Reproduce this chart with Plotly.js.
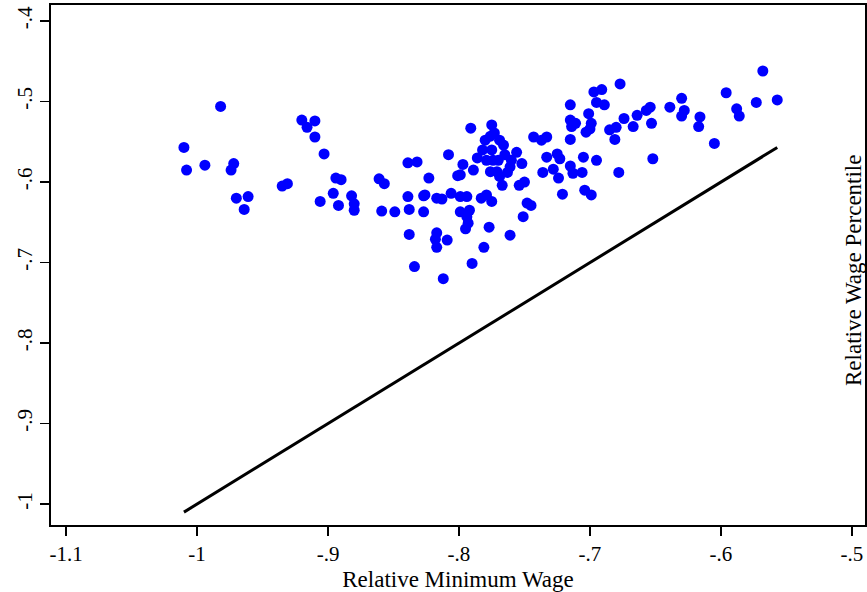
<!DOCTYPE html>
<html>
<head>
<meta charset="utf-8">
<script src="https://cdn.plot.ly/plotly-3.0.1.min.js"></script>
<style>html,body{margin:0;padding:0;background:#fff}#chart{width:867px;height:592px}</style>
</head>
<body>
<div id="chart"></div>
<script>
// Relative minimum wage (x) and relative wage percentile (y)
const minWage = [
-1.010,-1.008,-0.994,-0.982,-0.972,-0.974,-0.970,-0.961,-0.964,-0.935,
-0.931,-0.920,-0.916,-0.910,-0.910,-0.903,-0.906,-0.896,-0.894,-0.890,
-0.892,-0.882,-0.880,-0.880,-0.861,-0.857,-0.859,-0.849,-0.839,-0.832,
-0.839,-0.838,-0.838,-0.834,-0.827,-0.826,-0.827,-0.823,-0.817,-0.813,
-0.817,-0.818,-0.817,-0.809,-0.812,-0.808,-0.806,-0.801,-0.799,-0.794,
-0.799,-0.792,-0.794,-0.795,-0.793,-0.790,-0.781,-0.777,-0.783,-0.779,
-0.775,-0.761,-0.751,-0.748,-0.745,-0.754,-0.750,-0.752,-0.791,-0.775,
-0.780,-0.776,-0.773,-0.769,-0.766,-0.782,-0.786,-0.779,-0.774,-0.770,
-0.765,-0.760,-0.756,-0.776,-0.771,-0.769,-0.767,-0.761,-0.797,-0.799,
-0.789,-0.775,-0.763,-0.743,-0.737,-0.733,-0.733,-0.725,-0.723,-0.736,
-0.728,-0.724,-0.721,-0.715,-0.715,-0.711,-0.714,-0.715,-0.715,-0.713,
-0.706,-0.705,-0.704,-0.699,-0.701,-0.699,-0.700,-0.703,-0.697,-0.691,
-0.695,-0.689,-0.695,-0.685,-0.680,-0.681,-0.678,-0.677,-0.674,-0.664,
-0.667,-0.657,-0.654,-0.653,-0.652,-0.639,-0.630,-0.628,-0.630,-0.616,
-0.617,-0.605,-0.596,-0.588,-0.586,-0.573,-0.568,-0.557
];
const wagePct = [
-0.557,-0.585,-0.579,-0.506,-0.577,-0.585,-0.620,-0.618,-0.634,-0.605,
-0.602,-0.523,-0.532,-0.524,-0.544,-0.565,-0.624,-0.614,-0.595,-0.597,
-0.629,-0.617,-0.627,-0.635,-0.596,-0.602,-0.636,-0.637,-0.576,-0.575,
-0.618,-0.634,-0.665,-0.705,-0.617,-0.616,-0.637,-0.595,-0.620,-0.621,
-0.663,-0.671,-0.681,-0.672,-0.720,-0.566,-0.614,-0.592,-0.618,-0.618,
-0.637,-0.635,-0.643,-0.658,-0.651,-0.701,-0.681,-0.656,-0.620,-0.616,
-0.624,-0.666,-0.643,-0.626,-0.629,-0.604,-0.600,-0.577,-0.533,-0.529,
-0.548,-0.543,-0.539,-0.548,-0.554,-0.560,-0.570,-0.573,-0.573,-0.573,
-0.566,-0.573,-0.563,-0.587,-0.587,-0.593,-0.604,-0.581,-0.578,-0.591,
-0.585,-0.560,-0.588,-0.544,-0.548,-0.544,-0.569,-0.565,-0.571,-0.588,
-0.584,-0.595,-0.615,-0.504,-0.523,-0.527,-0.531,-0.547,-0.580,-0.589,
-0.588,-0.569,-0.610,-0.616,-0.515,-0.527,-0.534,-0.538,-0.488,-0.485,
-0.501,-0.504,-0.573,-0.535,-0.532,-0.547,-0.588,-0.478,-0.521,-0.517,
-0.531,-0.511,-0.507,-0.527,-0.571,-0.507,-0.496,-0.511,-0.518,-0.519,
-0.531,-0.552,-0.489,-0.509,-0.518,-0.501,-0.462,-0.498
];
// 45-degree reference line (y = x) across the range of the data
const refX = [-1.010, -0.557];
const refY = [-1.010, -0.557];

const xTickVals = [-1.1, -1.0, -0.9, -0.8, -0.7, -0.6, -0.5];
const xTickText = ["-1.1", "-1", "-.9", "-.8", "-.7", "-.6", "-.5"];
const yTickVals = [-1.0, -0.9, -0.8, -0.7, -0.6, -0.5, -0.4];
const yTickText = ["-1", "-.9", "-.8", "-.7", "-.6", "-.5", "-.4"];

const font = "'Liberation Serif', serif";

const traces = [
  {
    x: minWage, y: wagePct, type: "scatter", mode: "markers",
    marker: {color: "#0000ff", size: 11, line: {width: 0}},
    hoverinfo: "x+y", showlegend: false
  },
  {
    x: refX, y: refY, type: "scatter", mode: "lines",
    line: {color: "#000000", width: 3},
    hoverinfo: "skip", showlegend: false
  }
];

const layout = {
  width: 867, height: 592,
  margin: {l: 51, r: 2, t: 5, b: 67},
  paper_bgcolor: "#ffffff", plot_bgcolor: "#ffffff",
  font: {family: font, color: "#000000", size: 20},
  showlegend: false,
  xaxis: {
    range: [-1.1115, -0.490], tickmode: "array",
    tickvals: xTickVals, ticktext: xTickText,
    ticks: "outside", ticklen: 9, tickwidth: 1.5, tickcolor: "#000",
    showgrid: false, zeroline: false,
    showline: true, linecolor: "#000", linewidth: 2, mirror: true,
    tickfont: {family: font, size: 21, color: "#000"},
    title: {text: "Relative Minimum Wage", font: {family: font, size: 23}, standoff: 6}
  },
  yaxis: {
    range: [-1.026, -0.380], tickmode: "array",
    tickvals: yTickVals, ticktext: yTickText,
    ticks: "outside", ticklen: 9, tickwidth: 1.5, tickcolor: "#000",
    tickangle: -90,
    showgrid: false, zeroline: false,
    showline: true, linecolor: "#000", linewidth: 2, mirror: true,
    tickfont: {family: font, size: 21, color: "#000"}
  },
  annotations: [{
    text: "Relative Wage Percentile", xref: "paper", yref: "paper",
    x: 0.985, y: 0.49, xanchor: "center", yanchor: "middle",
    textangle: -90, showarrow: false,
    font: {family: font, size: 23, color: "#000"}
  }]
};

Plotly.newPlot("chart", traces, layout, {displayModeBar: false, staticPlot: true});
</script>
</body>
</html>
